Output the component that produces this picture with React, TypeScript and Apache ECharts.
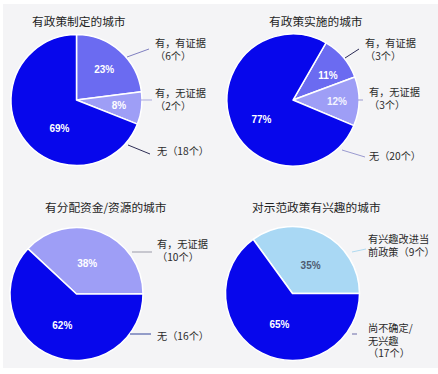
import { useEffect, useRef } from "react";
import * as echarts from "echarts";

// ---- data ----
const titles = ["有政策制定的城市", "有政策实施的城市", "有分配资金/资源的城市", "对示范政策有兴趣的城市"];

const p1Names = ["有，有证据", "有，无证据", "无"];
const p1Percent = [23, 8, 69];
const p1Counts = [6, 2, 18];

const p2Names = ["有，有证据", "有，无证据", "无"];
const p2Percent = [11, 12, 77];
const p2Counts = [3, 3, 20];

const p3Names = ["有，无证据", "无"];
const p3Percent = [38, 62];
const p3Counts = [10, 16];

const p4Names = ["有兴趣改进当前政策", "尚不确定/无兴趣"];
const p4Percent = [35, 65];
const p4Counts = [9, 17];

// ---- styles / layout ----
const DARK = "#0707ec";
const MID = "#6b6bf1";
const LIGHT = "#9e9ef6";
const SKY = "#a9d8f4";
const CJK = "'Noto Sans CJK SC', 'Noto Sans', sans-serif";
const NUM = "'Liberation Sans', Arial, sans-serif";

type Outer = { at: number[]; line: number[][]; wrap: number | null; countBreak: boolean };
type Panel = {
  names: string[];
  percent: number[];
  counts: number[];
  colors: string[];
  center: number[];
  r: number;
  start: number;
  inner: number[][];
  innerColor: string[];
  lineColors: string[];
  outer: Outer[];
  title: number[];
};

const panels: Panel[] = [
  {
    names: p1Names, percent: p1Percent, counts: p1Counts,
    colors: [MID, LIGHT, DARK], center: [76.5, 100], r: 65.5, start: 90,
    inner: [[4, -4], [7, 1], [12.5, 8.5]], innerColor: ["#fff", "#fff", "#fff"],
    lineColors: ["#7f7fc0", "#a9a9dd", "#2e2e55"],
    outer: [
      { at: [155, 49], line: [[127, 57], [149, 49]], wrap: null, countBreak: true },
      { at: [155, 99], line: [[141, 100], [152, 100]], wrap: null, countBreak: true },
      { at: [157, 150], line: [[128, 145], [150, 154]], wrap: null, countBreak: false },
    ],
    title: [32, 14.5],
  },
  {
    names: p2Names, percent: p2Percent, counts: p2Counts,
    colors: [MID, LIGHT, DARK], center: [293, 100], r: 66, start: 60,
    inner: [[7.5, -1.5], [8, 1], [2.5, 8]], innerColor: ["#fff", "#f4f4ff", "#fff"],
    lineColors: ["#2a2a55", "#9a9ad0", "#9a9ad0"],
    outer: [
      { at: [365, 49], line: [[345, 58], [359, 49]], wrap: null, countBreak: true },
      { at: [369, 98], line: [[358, 100], [363, 100]], wrap: null, countBreak: true },
      { at: [369, 155], line: [[342, 150], [365, 157]], wrap: null, countBreak: false },
    ],
    title: [269, 14.5],
  },
  {
    names: p3Names, percent: p3Percent, counts: p3Counts,
    colors: [LIGHT, DARK], center: [76.5, 294], r: 66.5, start: 137,
    inner: [[-2.5, 3], [-1, -2]], innerColor: ["#fff", "#fff"],
    lineColors: ["#9a9aa8", "#33449a"],
    outer: [
      { at: [157, 250], line: [[132, 252], [152, 252]], wrap: null, countBreak: true },
      { at: [157, 335], line: [[130, 334], [151, 334]], wrap: null, countBreak: false },
    ],
    title: [45, 200.5],
  },
  {
    names: p4Names, percent: p4Percent, counts: p4Counts,
    colors: [SKY, DARK], center: [292.5, 293.5], r: 67, start: 126,
    inner: [[1.5, 5], [3.5, -2]], innerColor: ["#4f5b70", "#fff"],
    lineColors: ["#b0daf0", "#6a6aa8"],
    outer: [
      { at: [368, 245], line: [[352, 252], [366, 249]], wrap: 6, countBreak: false },
      { at: [368, 340], line: [[352, 334], [357, 334]], wrap: 5, countBreak: true },
    ],
    title: [252, 200.5],
  },
];

function labelText(name: string, count: number, o: Outer): string {
  const n = o.wrap != null ? name.slice(0, o.wrap) + "\n" + name.slice(o.wrap) : name;
  return n + (o.countBreak ? "\n" : "") + "（" + count + "个）";
}

function buildSeries(p: Panel): any[] {
  const common = {
    type: "pie",
    center: p.center,
    radius: p.r,
    startAngle: p.start,
    clockwise: true,
    avoidLabelOverlap: false,
    silent: true,
    emphasis: { disabled: true },
  };
  const slices = {
    ...common,
    z: 2,
    itemStyle: { borderColor: "#ffffff", borderWidth: 1.5 },
    label: {
      show: true,
      position: "inside",
      formatter: "{c}%",
      color: "#fff",
      fontSize: 10,
      fontWeight: "bold",
      fontFamily: NUM,
    },
    labelLine: { show: false },
    data: p.names.map((n, i) => ({
      name: n,
      value: p.percent[i],
      itemStyle: { color: p.colors[i] },
      label: { offset: p.inner[i], color: p.innerColor[i] },
    })),
  };
  const outerTexts = p.names.map((n, i) => labelText(n, p.counts[i], p.outer[i]));
  const labels = {
    ...common,
    z: 3,
    itemStyle: { color: "rgba(0,0,0,0)", borderWidth: 0 },
    label: {
      show: true,
      position: "outside",
      formatter: (q: any) => outerTexts[q.dataIndex],
      color: "#2b2b2b",
      fontSize: 10.2,
      lineHeight: 12.5,
      fontFamily: CJK,
    },
    labelLine: { show: true, lineStyle: { width: 1 } },
    labelLayout: (q: any) => {
      const o = p.outer[q.dataIndex];
      return {
        x: o.at[0],
        y: o.at[1],
        align: "left",
        verticalAlign: "middle",
        labelLinePoints: [o.line[0], o.line[1], o.line[1]],
      };
    },
    data: p.names.map((n, i) => ({
      name: n,
      value: p.percent[i],
      labelLine: { lineStyle: { color: p.lineColors[i], width: 1 } },
    })),
  };
  return [slices, labels];
}

export default function App() {
  const ref = useRef<HTMLDivElement>(null);
  useEffect(() => {
    if (!ref.current) return;
    const chart = echarts.init(ref.current, null, { renderer: "svg" });
    chart.setOption({
      animation: false,
      backgroundColor: "#ffffff",
      graphic: [
        {
          type: "rect",
          z: -10,
          silent: true,
          shape: { x: 3, y: 4, width: 435, height: 364 },
          style: { fill: "#f4f4f6" },
        },
      ],
      title: panels.map((p, i) => ({
        text: titles[i],
        left: p.title[0],
        top: p.title[1],
        padding: 0,
        textStyle: { fontSize: 11.7, fontWeight: "normal", color: "#1f1f1f", fontFamily: CJK },
      })),
      series: panels.flatMap((p) => buildSeries(p)),
    });
    return () => chart.dispose();
  }, []);
  return (
    <div
      ref={ref}
      style={{ position: "fixed", left: 0, top: 0, width: 438, height: 374 }}
    />
  );
}
